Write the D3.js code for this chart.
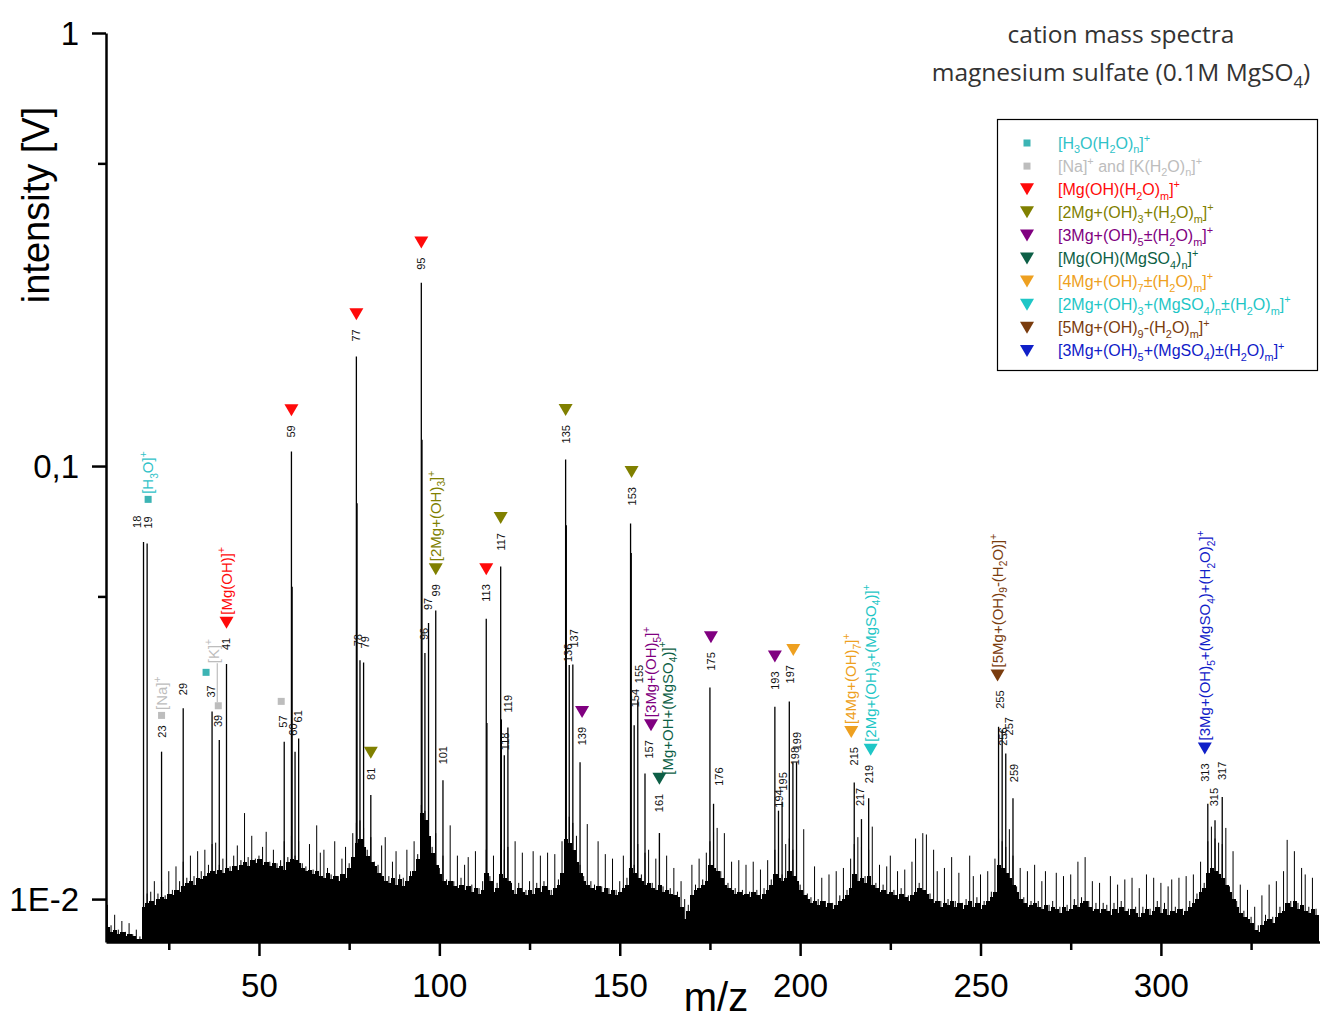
<!DOCTYPE html>
<html>
<head>
<meta charset="utf-8">
<script src="https://cdn.jsdelivr.net/npm/d3@7"></script>
<style>
  body { margin: 0; background: #fff; }
  svg { display: block; font-family: "Liberation Sans", Arial, sans-serif; }
</style>
</head>
<body>
<svg id="chart" width="1320" height="1021"></svg>
<script>
// ---------------- data ----------------
const xTickValues = [50, 100, 150, 200, 250, 300];
const xMinorTickValues = [25, 75, 125, 175, 225, 275, 325];
const yTickValues = [1, 0.1, 0.01];
const yTickLabels = ["1", "0,1", "1E-2"];
const yMinorTickValues = [0.5, 0.05];

// background signal, one value per integer m/z starting at noiseStart (mV)
const noiseStart = 8;
const noiseBody = [
  8.6, 8.4, 8.5, 8.3, 8.4, 8.2, 8.3, 8.2, 8.1, 8.1,          // 8-17
  9.6, 9.8, 9.9, 9.7, 10.0, 10.1, 10.0, 10.3, 10.2, 10.5,    // 18-27
  10.4, 10.7, 10.9, 11.0, 10.8, 11.2, 11.1, 11.3, 11.5, 11.6, // 28-37
  11.4, 11.7, 11.5, 11.8, 11.6, 11.9, 11.7, 12.0, 12.2, 11.9, // 38-47
  12.3, 12.1, 12.4, 12.0, 12.2, 11.9, 12.1, 11.8, 11.9, 11.7, // 48-57
  12.2, 12.4, 12.3, 12.1, 11.8, 11.6, 11.7, 11.4, 11.6, 11.3, // 58-67
  11.2, 11.5, 11.1, 11.3, 11.0, 11.4, 11.2, 11.8, 12.5, 13.5, // 68-77
  13.8, 13.2, 12.6, 12.2, 11.9, 11.5, 11.3, 11.0, 10.9, 11.2, // 78-87
  10.8, 11.1, 10.7, 11.0, 11.3, 11.6, 12.4, 15.8, 15.2, 14.0, // 88-97
  12.8, 12.0, 11.4, 11.0, 10.8, 11.0, 10.7, 10.6, 10.8, 10.5, // 98-107
  10.7, 10.4, 10.6, 10.3, 10.5, 11.5, 11.0, 10.4, 10.6, 11.4, // 108-117
  11.2, 11.0, 10.5, 10.3, 10.6, 10.4, 10.2, 10.5, 10.3, 10.6, // 118-127
  10.4, 10.7, 10.5, 10.2, 10.6, 10.8, 11.5, 13.8, 13.5, 13.0, // 128-137
  12.2, 11.5, 11.0, 10.8, 10.6, 10.5, 10.7, 10.4, 10.6, 10.3, // 138-147
  10.5, 10.2, 10.4, 10.6, 10.8, 11.8, 11.5, 11.2, 11.0, 10.8, // 148-157
  10.9, 10.6, 10.5, 10.8, 10.4, 10.5, 10.3, 10.2, 10.1, 9.6,  // 158-167
  9.0, 9.4, 10.2, 10.5, 10.6, 10.8, 11.0, 12.0, 11.8, 11.6,   // 168-177
  11.2, 10.8, 10.6, 10.5, 10.3, 10.4, 10.2, 10.3, 10.1, 10.4, // 178-187
  10.2, 10.0, 10.3, 10.5, 10.8, 11.4, 11.2, 11.0, 11.2, 11.6, // 188-197
  11.3, 11.0, 10.5, 10.2, 10.0, 9.8, 9.9, 9.7, 9.9, 9.6,      // 198-207
  9.8, 9.5, 9.7, 9.9, 10.0, 10.2, 10.6, 11.4, 11.0, 11.2,     // 208-217
  10.9, 11.3, 10.8, 10.6, 10.4, 10.5, 10.3, 10.4, 10.2, 10.0, // 218-227
  10.3, 10.1, 9.9, 10.2, 10.4, 10.6, 10.5, 10.3, 10.0, 9.8,   // 228-237
  9.9, 9.6, 9.8, 9.7, 9.9, 9.6, 9.8, 9.5, 9.7, 9.9,           // 238-247
  9.6, 9.8, 9.5, 9.7, 9.9, 10.1, 10.4, 12.0, 11.8, 11.5,      // 248-257
  11.2, 10.8, 10.4, 10.0, 9.8, 9.6, 9.7, 9.8, 9.6, 9.5,       // 258-267
  9.7, 9.4, 9.6, 9.5, 9.3, 9.6, 9.4, 9.5, 9.7, 9.6,           // 268-277
  9.8, 9.9, 9.6, 9.4, 9.5, 9.3, 9.5, 9.4, 9.2, 9.5,           // 278-287
  9.3, 9.6, 9.4, 9.2, 9.5, 9.3, 9.1, 9.3, 9.5, 9.2,           // 288-297
  9.4, 9.6, 9.3, 9.5, 9.2, 9.4, 9.3, 9.5, 9.2, 9.4,           // 298-307
  9.6, 9.8, 10.0, 10.4, 10.6, 11.5, 11.8, 11.6, 11.4, 11.2,   // 308-317
  10.8, 10.4, 10.0, 9.6, 9.3, 9.1, 9.0, 8.8, 8.5, 8.4,        // 318-327
  8.7, 8.9, 9.0, 8.8, 9.1, 9.3, 9.4, 9.8, 9.6, 9.9,           // 328-337
  9.5, 9.7, 9.4, 9.3, 9.5, 9.2                                // 338-343
];
const noiseSpikes = [
  9.7, 8.7, 9.2, 8.5, 8.9, 8.4, 8.8, 8.3, 8.5, 8.2,           // 8-17
  10.2, 10.3, 10.4, 11.0, 10.3, 11.0, 10.2, 11.6, 10.5, 11.9, // 18-27
  11.0, 12.2, 11.2, 12.6, 11.3, 12.9, 11.6, 13.0, 12.0, 13.4, // 28-37
  13.5, 12.0, 12.4, 13.9, 11.9, 12.6, 13.3, 12.3, 15.8, 12.5, // 38-47
  14.0, 12.4, 12.6, 13.2, 14.3, 12.2, 13.0, 12.1, 12.3, 13.6, // 48-57
  12.5, 14.0, 12.6, 13.6, 12.1, 11.9, 13.4, 11.7, 14.8, 12.8, // 58-67
  13.0, 11.8, 11.4, 13.6, 11.3, 12.4, 13.2, 12.1, 14.2, 15.0, // 68-77
  15.2, 14.6, 13.0, 13.9, 12.2, 12.0, 13.3, 13.9, 11.3, 12.2, // 78-87
  12.9, 11.4, 11.2, 13.0, 11.6, 13.6, 12.7, 16.5, 16.0, 15.0, // 88-97
  13.2, 14.2, 11.8, 12.6, 11.1, 14.8, 11.0, 12.6, 11.2, 12.0, // 98-107
  12.5, 10.8, 12.9, 10.6, 11.0, 13.0, 11.3, 12.6, 10.9, 13.4, // 108-117
  13.0, 13.2, 10.9, 13.6, 10.9, 12.8, 10.5, 11.0, 12.9, 10.9, // 118-127
  12.6, 11.0, 12.8, 10.5, 12.7, 11.1, 13.6, 16.0, 15.5, 15.0, // 128-137
  14.0, 12.0, 11.3, 14.9, 11.0, 10.8, 13.6, 10.7, 12.7, 10.6, // 138-147
  12.4, 10.5, 11.0, 12.6, 11.2, 14.0, 12.0, 13.4, 11.4, 12.8, // 148-157
  13.0, 10.9, 12.4, 14.2, 10.7, 12.6, 10.6, 11.8, 10.4, 11.0, // 158-167
  10.0, 9.7, 12.0, 10.8, 12.4, 11.1, 12.8, 13.6, 14.3, 14.6,  // 168-177
  11.6, 14.2, 10.9, 12.2, 10.6, 12.3, 10.5, 12.0, 10.4, 12.2, // 178-187
  10.5, 11.7, 10.6, 12.3, 11.1, 13.0, 12.8, 11.4, 13.4, 13.8, // 188-197
  13.0, 13.4, 10.8, 14.5, 10.3, 10.1, 11.9, 10.0, 11.2, 9.9,  // 198-207
  11.4, 9.8, 11.6, 10.2, 11.8, 10.5, 12.4, 13.4, 13.9, 13.2,  // 208-217
  11.3, 13.0, 14.7, 10.9, 12.0, 10.8, 11.9, 12.6, 10.5, 11.6, // 218-227
  10.6, 11.7, 10.2, 12.2, 13.8, 10.9, 14.2, 14.1, 10.3, 13.0, // 228-237
  11.6, 9.9, 11.8, 10.0, 12.5, 9.9, 11.5, 9.8, 10.0, 12.6,    // 238-247
  11.3, 10.1, 11.4, 9.9, 11.6, 10.4, 12.4, 13.8, 13.6, 13.2,  // 248-257
  14.5, 12.6, 10.7, 11.8, 10.1, 11.6, 9.9, 12.0, 9.9, 11.0,   // 258-267
  11.6, 9.7, 9.9, 11.5, 9.6, 11.3, 9.7, 11.4, 10.0, 12.2,     // 268-277
  10.1, 12.5, 9.9, 11.0, 9.8, 10.9, 9.8, 9.7, 11.3, 9.8,      // 278-287
  10.8, 9.9, 11.1, 9.5, 11.2, 9.6, 10.6, 9.6, 11.4, 9.5,      // 288-297
  11.2, 9.9, 10.9, 9.8, 10.7, 11.1, 9.6, 11.2, 9.5, 11.3,     // 298-307
  9.9, 11.4, 10.3, 12.2, 10.9, 13.6, 14.7, 13.8, 13.5, 13.4,  // 308-317
  14.6, 10.7, 12.9, 9.9, 10.8, 9.4, 10.5, 9.1, 9.6, 8.7,      // 318-327
  10.2, 9.2, 10.8, 9.1, 11.0, 9.6, 11.6, 13.7, 9.9, 12.9,     // 328-337
  9.8, 11.8, 11.4, 9.6, 11.2, 9.5                             // 338-343
];

// labelled peaks: [m/z, intensity in V]
const peaks = [
  [18, 0.0668], [19, 0.0662], [23, 0.0219], [29, 0.0276], [37, 0.0271], [39, 0.0233],
  [41, 0.0349], [57, 0.0231], [59, 0.108], [60, 0.0219], [61, 0.0235], [77, 0.179],
  [78, 0.0356], [79, 0.0352], [81, 0.0174], [95, 0.265], [96, 0.037], [97, 0.0434],
  [99, 0.0464], [101, 0.0188], [113, 0.0444], [117, 0.0586], [118, 0.0215], [119, 0.0249],
  [135, 0.1036], [136, 0.0347], [137, 0.0348], [139, 0.0207], [153, 0.0737], [154, 0.0252],
  [155, 0.0288], [157, 0.0195], [161, 0.0142], [175, 0.0308], [176, 0.0166], [193, 0.0278],
  [194, 0.0160], [195, 0.0168], [197, 0.0286], [198, 0.0207], [199, 0.0207], [215, 0.0186],
  [217, 0.0153], [219, 0.0171], [255, 0.0250], [256, 0.0246], [257, 0.0217], [259, 0.0171],
  [313, 0.0166], [315, 0.0152], [317, 0.0172]
];

// lower side samples right next to the strongest peaks
const shoulders = [
  [59.2, 0.0526], [77.2, 0.082], [95.2, 0.115], [113.2, 0.0255],
  [117.2, 0.026], [135.2, 0.073], [153.2, 0.063]
];

// ion families
const seriesKeys = ["h3o", "alkali", "mgoh", "mg2", "mg3", "mgso4", "mg4", "mg2so4", "mg5", "mg3so4"];
const seriesLabels = [
  "[H_{3}O(H_{2}O)_{n}]^{+}",
  "[Na]^{+} and [K(H_{2}O)_{n}]^{+}",
  "[Mg(OH)(H_{2}O)_{m}]^{+}",
  "[2Mg+(OH)_{3}+(H_{2}O)_{m}]^{+}",
  "[3Mg+(OH)_{5}±(H_{2}O)_{m}]^{+}",
  "[Mg(OH)(MgSO_{4})_{n}]^{+}",
  "[4Mg+(OH)_{7}±(H_{2}O)_{m}]^{+}",
  "[2Mg+(OH)_{3}+(MgSO_{4})_{n}±(H_{2}O)_{m}]^{+}",
  "[5Mg+(OH)_{9}-(H_{2}O)_{m}]^{+}",
  "[3Mg+(OH)_{5}+(MgSO_{4})±(H_{2}O)_{m}]^{+}"
];
const seriesShapes = ["square", "square", "tri", "tri", "tri", "tri", "tri", "tri", "tri", "tri"];

// peak assignments: [m/z, ion family]
const assignments = [
  [19, "h3o"], [23, "alkali"], [37, "h3o"], [39, "alkali"], [57, "alkali"],
  [41, "mgoh"], [59, "mgoh"], [77, "mgoh"], [95, "mgoh"], [113, "mgoh"],
  [81, "mg2"], [99, "mg2"], [117, "mg2"], [135, "mg2"], [153, "mg2"],
  [139, "mg3"], [157, "mg3"], [175, "mg3"], [193, "mg3"],
  [161, "mgso4"], [197, "mg4"], [215, "mg4"], [219, "mg2so4"],
  [255, "mg5"], [313, "mg3so4"]
];

// named ions written next to their peaks: [m/z, family, formula]
const ionNames = [
  [19, "h3o", "[H_{3}O]^{+}"],
  [23, "alkali", "[Na]^{+}"],
  [39, "alkali", "[K]^{+}"],
  [41, "mgoh", "[Mg(OH)]^{+}"],
  [99, "mg2", "[2Mg+(OH)_{3}]^{+}"],
  [157, "mg3", "[3Mg+(OH)_{5}]^{+}"],
  [161, "mgso4", "[Mg+OH+(MgSO_{4})]^{+}"],
  [215, "mg4", "[4Mg+(OH)_{7}]^{+}"],
  [219, "mg2so4", "[2Mg+(OH)_{3}+(MgSO_{4})]^{+}"],
  [255, "mg5", "[5Mg+(OH)_{9}-(H_{2}O)]^{+}"],
  [313, "mg3so4", "[3Mg+(OH)_{5}+(MgSO_{4})+(H_{2}O)_{2}]^{+}"]
];

const titleLines = ["cation mass spectra", "magnesium sulfate (0.1M MgSO_{4})"];

// ---------------- styling & layout ----------------
const seriesColor = {
  h3o: "#30c2c8", alkali: "#bdbdbd", mgoh: "#ff0a0a", mg2: "#808000",
  mg3: "#800080", mgso4: "#0d5f46", mg4: "#eea020", mg2so4: "#1ec6c6",
  mg5: "#7a3c0e", mg3so4: "#1020c8"
};
const markerColor = Object.assign({}, seriesColor, { h3o: "#3cb4b4" });

// peak label nudges: [dx px, gap above the peak top px]
const labelLayout = {
  18: [-7, 14], 19: [1, 15], 29: [0, 13], 37: [-1, 14], 39: [-1, 13], 57: [-1, 14],
  60: [-2, 16], 61: [-1, 16], 77: [0, 15], 78: [-2, 14], 79: [1, 14], 81: [0, 15],
  95: [0, 13], 96: [-1, 13], 97: [-1, 13], 101: [0, 16], 113: [0, 17], 117: [0, 16],
  118: [1, 5], 119: [0, 15], 135: [0, 16], 136: [-1, 3], 137: [1, 17], 139: [2, 17],
  153: [1, 18], 154: [1, 18], 155: [1, 17], 157: [4, 15], 161: [0, 21], 175: [1, 17],
  176: [5, 18], 193: [0, 17], 194: [1, 3], 195: [1, 11], 197: [1, 18], 198: [2, -3],
  199: [0, 12], 215: [0, 17], 217: [-1, 13], 219: [0, 15], 255: [1, 18], 256: [1, -16],
  257: [3, 18], 259: [1, 16], 313: [-3, 22], 315: [-1, 14], 317: [0, 17]
};
// marker nudges: dx, lift above the label top
const markerLayout = {
  19: { lift: 17 }, 23: { lift: 10 }, 37: { dx: -5, lift: 13 }, 39: { lift: 9 },
  57: { dx: -2, lift: 14 }, 157: { dx: 2 }, 197: { dx: 3 }, 215: { dx: -3 },
  219: { dx: 2 }, 255: { dx: -2 }
};
// ion name nudges
const nameLayout = {
  39: { dx: -5, lift: 37, leader: true },
  161: { dx: 8, lift: -4 }
};

const plot = { left: 106, right: 1320, top: 33, bottom: 942 };

const svg = d3.select("#chart");

const xs = d3.scaleLinear().domain([7.6, 344.1]).range([plot.left, plot.right]);
const ys = d3.scaleLog().domain([0.00796, 1]).range([plot.bottom, plot.top]);

svg.append("defs").append("clipPath").attr("id", "plotClip")
  .append("rect").attr("x", plot.left).attr("y", plot.top)
  .attr("width", plot.right - plot.left).attr("height", plot.bottom - plot.top);

// rich text with sub/superscripts: _{..} and ^{..}
function richText(sel, str, size) {
  const parts = str.split(/(_\{[^}]*\}|\^\{[^}]*\})/).filter(s => s.length);
  let shift = 0;
  parts.forEach(p => {
    let target = 0, fs = size, content = p;
    if (p.startsWith("_{")) { target = 0.3 * size; fs = 0.68 * size; content = p.slice(2, -1); }
    else if (p.startsWith("^{")) { target = -0.42 * size; fs = 0.68 * size; content = p.slice(2, -1); }
    sel.append("tspan").attr("dy", target - shift).attr("font-size", fs).text(content);
    shift = target;
  });
}

// ---------------- spectrum ----------------
const spec = svg.append("g").attr("clip-path", "url(#plotClip)");

const bodyData = noiseBody.map((v, i) => ({ mz: noiseStart + i, v: v / 1000 }));
spec.append("g").attr("shape-rendering", "crispEdges")
  .selectAll("rect").data(bodyData).join("rect")
  .attr("x", d => xs(d.mz - 0.5))
  .attr("width", d => xs(d.mz + 0.5) - xs(d.mz - 0.5) + 1)
  .attr("y", d => ys(d.v))
  .attr("height", d => plot.bottom - ys(d.v))
  .attr("fill", "#000");

const spikeData = noiseSpikes.map((v, i) => ({ mz: noiseStart + i, v: v / 1000 }));
spec.append("g").selectAll("line").data(spikeData).join("line")
  .attr("x1", d => xs(d.mz)).attr("x2", d => xs(d.mz))
  .attr("y1", plot.bottom).attr("y2", d => ys(d.v))
  .attr("stroke", "#000").attr("stroke-width", 1);

spec.append("g").selectAll("line").data(shoulders).join("line")
  .attr("x1", d => xs(d[0])).attr("x2", d => xs(d[0]))
  .attr("y1", plot.bottom).attr("y2", d => ys(d[1]))
  .attr("stroke", "#000").attr("stroke-width", 1.2);

spec.append("g").selectAll("line").data(peaks).join("line")
  .attr("x1", d => xs(d[0])).attr("x2", d => xs(d[0]))
  .attr("y1", plot.bottom).attr("y2", d => ys(d[1]))
  .attr("stroke", "#000").attr("stroke-width", 1.3);

// ---------------- peak labels ----------------
const labelTop = {}, labelX = {};
const labelG = svg.append("g").attr("font-size", 11).attr("fill", "#111");
peaks.forEach(([mz, v]) => {
  const [dx, gap] = labelLayout[mz] || [0, 14];
  const cx = xs(mz) + dx, bottom = ys(v) - gap;
  const t = labelG.append("text")
    .attr("transform", `translate(${cx + 4},${bottom}) rotate(-90)`)
    .text(mz);
  labelTop[mz] = bottom - t.node().getComputedTextLength();
  labelX[mz] = cx;
});

// ---------------- markers ----------------
const shapeOf = {};
seriesKeys.forEach((k, i) => shapeOf[k] = seriesShapes[i]);
const markerTop = {}, markerX = {};
const markG = svg.append("g");
function drawMarker(g, shape, cx, cy, color) {
  if (shape === "square") {
    g.append("rect").attr("x", cx - 3.5).attr("y", cy - 3.5).attr("width", 7).attr("height", 7).attr("fill", color);
  } else {
    g.append("path").attr("d", `M${cx - 7},${cy - 6}L${cx + 7},${cy - 6}L${cx},${cy + 6}Z`).attr("fill", color);
  }
}
assignments.forEach(([mz, key]) => {
  const lay = markerLayout[mz] || {};
  const shape = shapeOf[key];
  const cx = labelX[mz] + (lay.dx || 0);
  let cy;
  if (shape === "square") {
    cy = labelTop[mz] - (lay.lift != null ? lay.lift : 11);
    markerTop[mz] = cy - 3.5;
  } else {
    cy = labelTop[mz] - (lay.lift != null ? lay.lift : 9) - 6;
    markerTop[mz] = cy - 6;
  }
  markerX[mz] = cx;
  drawMarker(markG, shape, cx, cy, markerColor[key]);
});

// ---------------- ion names ----------------
const nameG = svg.append("g");
const nameSize = 15;
ionNames.forEach(([mz, key, str]) => {
  const lay = nameLayout[mz] || {};
  const cx = markerX[mz] + (lay.dx || 0);
  const start = markerTop[mz] - 2 - (lay.lift || 0);
  const t = nameG.append("text")
    .attr("transform", `translate(${cx + 0.35 * nameSize},${start}) rotate(-90)`)
    .attr("font-size", nameSize).attr("fill", seriesColor[key]);
  richText(t, str, nameSize);
  if (lay.leader) {
    nameG.append("line")
      .attr("x1", markerX[mz] - 1).attr("x2", markerX[mz] - 1)
      .attr("y1", markerTop[mz]).attr("y2", start)
      .attr("stroke", seriesColor[key]).attr("stroke-width", 1.2);
  }
});

// ---------------- axes ----------------
const axisFont = 33;
const xAxis = svg.append("g").attr("transform", `translate(0,${plot.bottom})`)
  .call(d3.axisBottom(xs).tickValues(xTickValues).tickSize(14).tickSizeOuter(0).tickPadding(18)
    .tickFormat(d3.format("d")));
const xMinor = svg.append("g").attr("transform", `translate(0,${plot.bottom})`)
  .call(d3.axisBottom(xs).tickValues(xMinorTickValues).tickSize(8).tickSizeOuter(0).tickFormat(""));
const yAxis = svg.append("g").attr("transform", `translate(${plot.left},0)`)
  .call(d3.axisLeft(ys).tickValues(yTickValues).tickSize(14).tickSizeOuter(0).tickPadding(13)
    .tickFormat(d => yTickLabels[yTickValues.indexOf(d)]));
const yMinor = svg.append("g").attr("transform", `translate(${plot.left},0)`)
  .call(d3.axisLeft(ys).tickValues(yMinorTickValues).tickSize(8).tickSizeOuter(0).tickFormat(""));

[xAxis, xMinor, yAxis, yMinor].forEach(g => {
  g.attr("font-family", null);
  g.selectAll(".domain").attr("stroke", "#000").attr("stroke-width", 2.5);
  g.selectAll(".tick line").attr("stroke", "#000").attr("stroke-width", 2.5);
  g.selectAll(".tick text").attr("font-size", axisFont).attr("fill", "#000");
});
xMinor.select(".domain").remove();
yMinor.select(".domain").remove();
yAxis.selectAll(".tick text").attr("dy", "0.36em");

svg.append("text").attr("transform", "translate(49,205) rotate(-90)")
  .attr("text-anchor", "middle").attr("font-size", 38).attr("fill", "#000")
  .text("intensity [V]");
svg.append("text").attr("x", 716).attr("y", 1011)
  .attr("text-anchor", "middle").attr("font-size", 40).attr("fill", "#000")
  .text("m/z");

// ---------------- title ----------------
const titleG = svg.append("g").attr("fill", "#333").attr("text-anchor", "middle")
  .style("font-family", '"Open Sans", sans-serif');
titleLines.forEach((line, i) => {
  const t = titleG.append("text").attr("x", 1121).attr("y", 43 + i * 38)
    .attr("font-size", 24.5);
  richText(t, line, 24.5);
});

// ---------------- legend ----------------
const leg = svg.append("g");
leg.append("rect").attr("x", 997.5).attr("y", 119.5).attr("width", 320).attr("height", 251)
  .attr("fill", "#fff").attr("stroke", "#000").attr("stroke-width", 1.2);
seriesKeys.forEach((key, i) => {
  const cy = 143 + i * 23.1;
  drawMarker(leg, seriesShapes[i], 1027, cy, markerColor[key]);
  const t = leg.append("text").attr("x", 1058).attr("y", cy + 5.5)
    .attr("font-size", 16).attr("fill", seriesColor[key]);
  richText(t, seriesLabels[i], 16);
});
</script>
</body>
</html>
